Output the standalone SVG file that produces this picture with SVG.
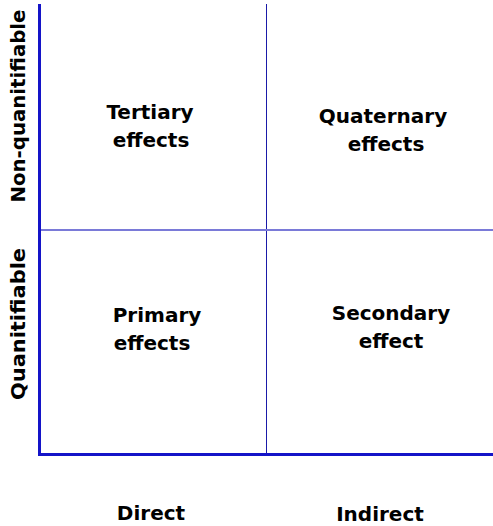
<svg xmlns="http://www.w3.org/2000/svg" width="493" height="526" viewBox="0 0 493 526">
<style>
.t{font-family:"DejaVu Sans","Liberation Sans",sans-serif;font-weight:bold;font-size:20px;fill:#000;text-anchor:middle}
.ax{stroke:#1414c8;stroke-width:3;fill:none}
</style>
<rect width="493" height="526" fill="#fff"/>
<g id="connectors">
<line x1="266.5" y1="4" x2="266.5" y2="454" stroke="#1a1aa8" stroke-width="1"/>
<line x1="41" y1="230" x2="493" y2="230" stroke="#7a7ad8" stroke-width="2"/>
<path class="ax" d="M39.5 4 V454.5 H493"/>
</g>
<g id="tertiary"><text class="t" x="150" y="119">Tertiary</text><text class="t" x="151" y="147">effects</text></g>
<g id="quaternary"><text class="t" x="383" y="123">Quaternary</text><text class="t" x="386" y="151">effects</text></g>
<g id="primary"><text class="t" x="157" y="322">Primary</text><text class="t" x="152" y="350">effects</text></g>
<g id="secondary"><text class="t" x="391" y="320">Secondary</text><text class="t" x="391" y="348">effect</text></g>
<g id="y-labels">
<text class="t" transform="translate(25,106) rotate(-90)" textLength="193" lengthAdjust="spacingAndGlyphs">Non-quanitifiable</text>
<text class="t" transform="translate(25,324) rotate(-90)" textLength="152" lengthAdjust="spacingAndGlyphs">Quanitifiable</text>
</g>
<g id="x-labels">
<text class="t" x="151" y="520">Direct</text>
<text class="t" x="380" y="521">Indirect</text>
</g>
</svg>
